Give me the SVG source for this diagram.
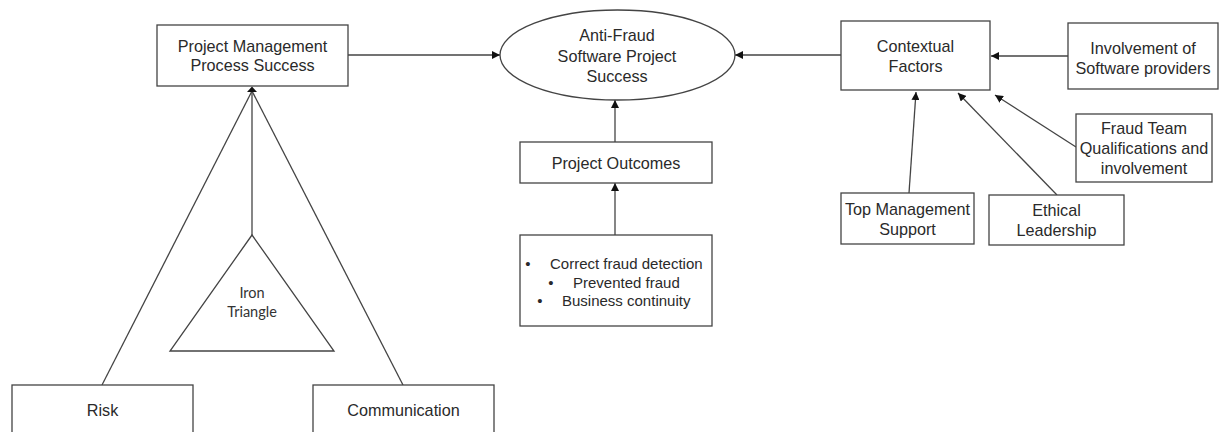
<svg xmlns="http://www.w3.org/2000/svg" width="1219" height="432" viewBox="0 0 1219 432">
<style>
.box{fill:#fff;stroke:#444;stroke-width:1.3}
.t{font-family:"Liberation Sans",Arial,sans-serif;font-size:16.2px;fill:#2a2a2a;text-anchor:middle;dominant-baseline:central}
.b{font-size:15px}
.s{text-anchor:start}
.tc{font-family:Lato,"Open Sans",sans-serif;font-size:14.5px;fill:#333;text-anchor:middle;dominant-baseline:central}
.ln{fill:none;stroke:#444;stroke-width:1.3}
</style>
<defs>
<marker id="ar" viewBox="0 0 10 10" refX="10" refY="5" markerWidth="8" markerHeight="8" markerUnits="userSpaceOnUse" orient="auto">
<path d="M0,0 L10,5 L0,10 z" fill="#111"/>
</marker>
</defs>
<rect width="1219" height="432" fill="#fff"/>
<g id="connectors">
<line class="ln" x1="348" y1="55" x2="500" y2="55" marker-end="url(#ar)"/>
<line class="ln" x1="841" y1="55" x2="735" y2="55" marker-end="url(#ar)"/>
<line class="ln" x1="615" y1="142" x2="615" y2="100" marker-end="url(#ar)"/>
<line class="ln" x1="615" y1="235" x2="615" y2="183" marker-end="url(#ar)"/>
<line class="ln" x1="1068" y1="56" x2="991" y2="56" marker-end="url(#ar)"/>
<line class="ln" x1="1076" y1="147" x2="995" y2="95" marker-end="url(#ar)"/>
<line class="ln" x1="1057" y1="195" x2="958" y2="93" marker-end="url(#ar)"/>
<line class="ln" x1="909" y1="193" x2="916" y2="92" marker-end="url(#ar)"/>
<line class="ln" x1="252" y1="91" x2="102" y2="385"/>
<line class="ln" x1="252" y1="91" x2="403" y2="385"/>
<line class="ln" x1="252" y1="91" x2="252" y2="235"/>
<path d="M252,86.5 L257,92 L247,92 z" fill="#111"/>
</g>
<g id="pm">
<rect class="box" x="157" y="25" width="191" height="61"/>
<text class="t" x="252.5" y="46">Project Management</text>
<text class="t" x="252.5" y="65">Process Success</text>
</g>
<g id="afsps">
<ellipse class="box" cx="617.5" cy="55" rx="117.5" ry="45"/>
<text class="t" x="617" y="35">Anti-Fraud</text>
<text class="t" x="617" y="56">Software Project</text>
<text class="t" x="617" y="76">Success</text>
</g>
<g id="po">
<rect class="box" x="520" y="142" width="192" height="41"/>
<text class="t" x="616" y="163">Project Outcomes</text>
</g>
<g id="outcomes">
<rect class="box" x="520" y="235" width="192" height="91"/>
<text class="t b" x="528" y="263">•</text>
<text class="t b s" x="550" y="263">Correct fraud detection</text>
<text class="t b" x="551" y="282">•</text>
<text class="t b s" x="573" y="282">Prevented fraud</text>
<text class="t b" x="540" y="300">•</text>
<text class="t b s" x="562" y="300">Business continuity</text>
</g>
<g id="cf">
<rect class="box" x="841" y="21" width="149" height="69"/>
<text class="t" x="915.5" y="46">Contextual</text>
<text class="t" x="915.5" y="66">Factors</text>
</g>
<g id="isp">
<rect class="box" x="1068" y="23" width="150" height="66"/>
<text class="t" x="1143" y="48">Involvement of</text>
<text class="t" x="1143" y="68">Software providers</text>
</g>
<g id="ftq">
<rect class="box" x="1076" y="114" width="136" height="68"/>
<text class="t" x="1144" y="128">Fraud Team</text>
<text class="t" x="1144" y="148">Qualifications and</text>
<text class="t" x="1144" y="168">involvement</text>
</g>
<g id="el">
<rect class="box" x="989" y="195" width="135" height="50"/>
<text class="t" x="1056.5" y="210">Ethical</text>
<text class="t" x="1056.5" y="230">Leadership</text>
</g>
<g id="tms">
<rect class="box" x="841" y="193" width="133" height="51"/>
<text class="t" x="907.5" y="209">Top Management</text>
<text class="t" x="907.5" y="229">Support</text>
</g>
<g id="iron">
<polygon class="box" points="252,235 334,351 170,351"/>
<text class="tc" x="252" y="292">Iron</text>
<text class="tc" x="252" y="311">Triangle</text>
</g>
<g id="risk">
<rect class="box" x="12" y="385" width="181" height="60"/>
<text class="t" x="102.5" y="410">Risk</text>
</g>
<g id="comm">
<rect class="box" x="313" y="385" width="181" height="60"/>
<text class="t" x="403.5" y="410">Communication</text>
</g>
</svg>
